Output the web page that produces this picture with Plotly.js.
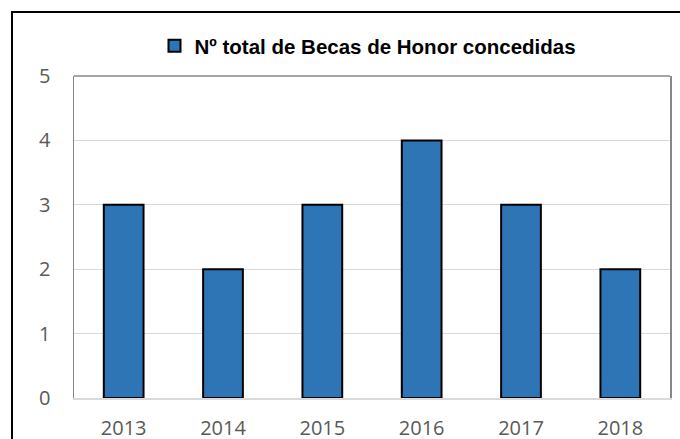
<!DOCTYPE html>
<html>
<head>
<meta charset="utf-8">
<script src="https://cdn.plot.ly/plotly-3.0.1.min.js"></script>
<style>
html,body{margin:0;padding:0;background:#fff;overflow:hidden;}
#chart{width:680px;height:439px;}
</style>
</head>
<body>
<div id="chart"></div>
<script>
const years = ['2013', '2014', '2015', '2016', '2017', '2018'];
const becas = [3, 2, 3, 4, 3, 2];
const seriesName = 'Nº total de Becas de Honor concedidas';
const yTicks = [0, 1, 2, 3, 4, 5];

const W = 680, H = 439;
const m = {l: 74, r: 10, t: 76, b: 41};
const pw = W - m.l - m.r, ph = H - m.t - m.b;
const px = v => (v - m.l) / pw;
const py = v => 1 - (v - m.t) / ph;

const trace = {
  type: 'bar',
  x: years,
  y: becas,
  name: seriesName,
  marker: {color: '#2E75B6', line: {color: '#000000', width: 2}},
  hoverinfo: 'x+y'
};

const tickFont = {family: 'Open Sans, Liberation Sans, Arial, sans-serif', size: 20, color: '#595959'};

const layout = {
  width: W, height: H,
  margin: m,
  paper_bgcolor: '#ffffff',
  plot_bgcolor: '#ffffff',
  showlegend: true,
  legend: {
    orientation: 'h', x: px(368), xanchor: 'center', y: py(46), yanchor: 'middle',
    font: {family: 'Liberation Sans, Arial, sans-serif', size: 20.5, color: '#000000', weight: 'bold'},
    itemsizing: 'constant', itemwidth: 30
  },
  bargap: 0.6,
  xaxis: {
    type: 'category',
    showgrid: false,
    showline: true, linecolor: '#d9d9d9', linewidth: 1.5,
    ticks: 'outside', ticklen: 11, tickcolor: 'rgba(0,0,0,0)',
    tickfont: tickFont,
    fixedrange: true
  },
  yaxis: {
    range: [0, 5],
    tickvals: yTicks,
    showgrid: true, gridcolor: '#d9d9d9', gridwidth: 1,
    showline: true, mirror: true, linecolor: '#878787', linewidth: 1.5,
    zeroline: false,
    ticks: 'outside', ticklen: 18, tickcolor: 'rgba(0,0,0,0)',
    tickfont: tickFont,
    fixedrange: true
  },
  shapes: [
    {type: 'line', xref: 'paper', yref: 'paper', x0: 0, x1: 1, y0: 1, y1: 1,
     line: {color: '#878787', width: 1.5}},
    {type: 'rect', xref: 'paper', yref: 'paper', x0: px(12), y0: py(460), x1: px(700), y1: py(12),
     line: {color: '#000000', width: 2}, fillcolor: 'rgba(0,0,0,0)', layer: 'above'}
  ]
};

Plotly.newPlot('chart', [trace], layout, {displayModeBar: false, staticPlot: true});
</script>
</body>
</html>
